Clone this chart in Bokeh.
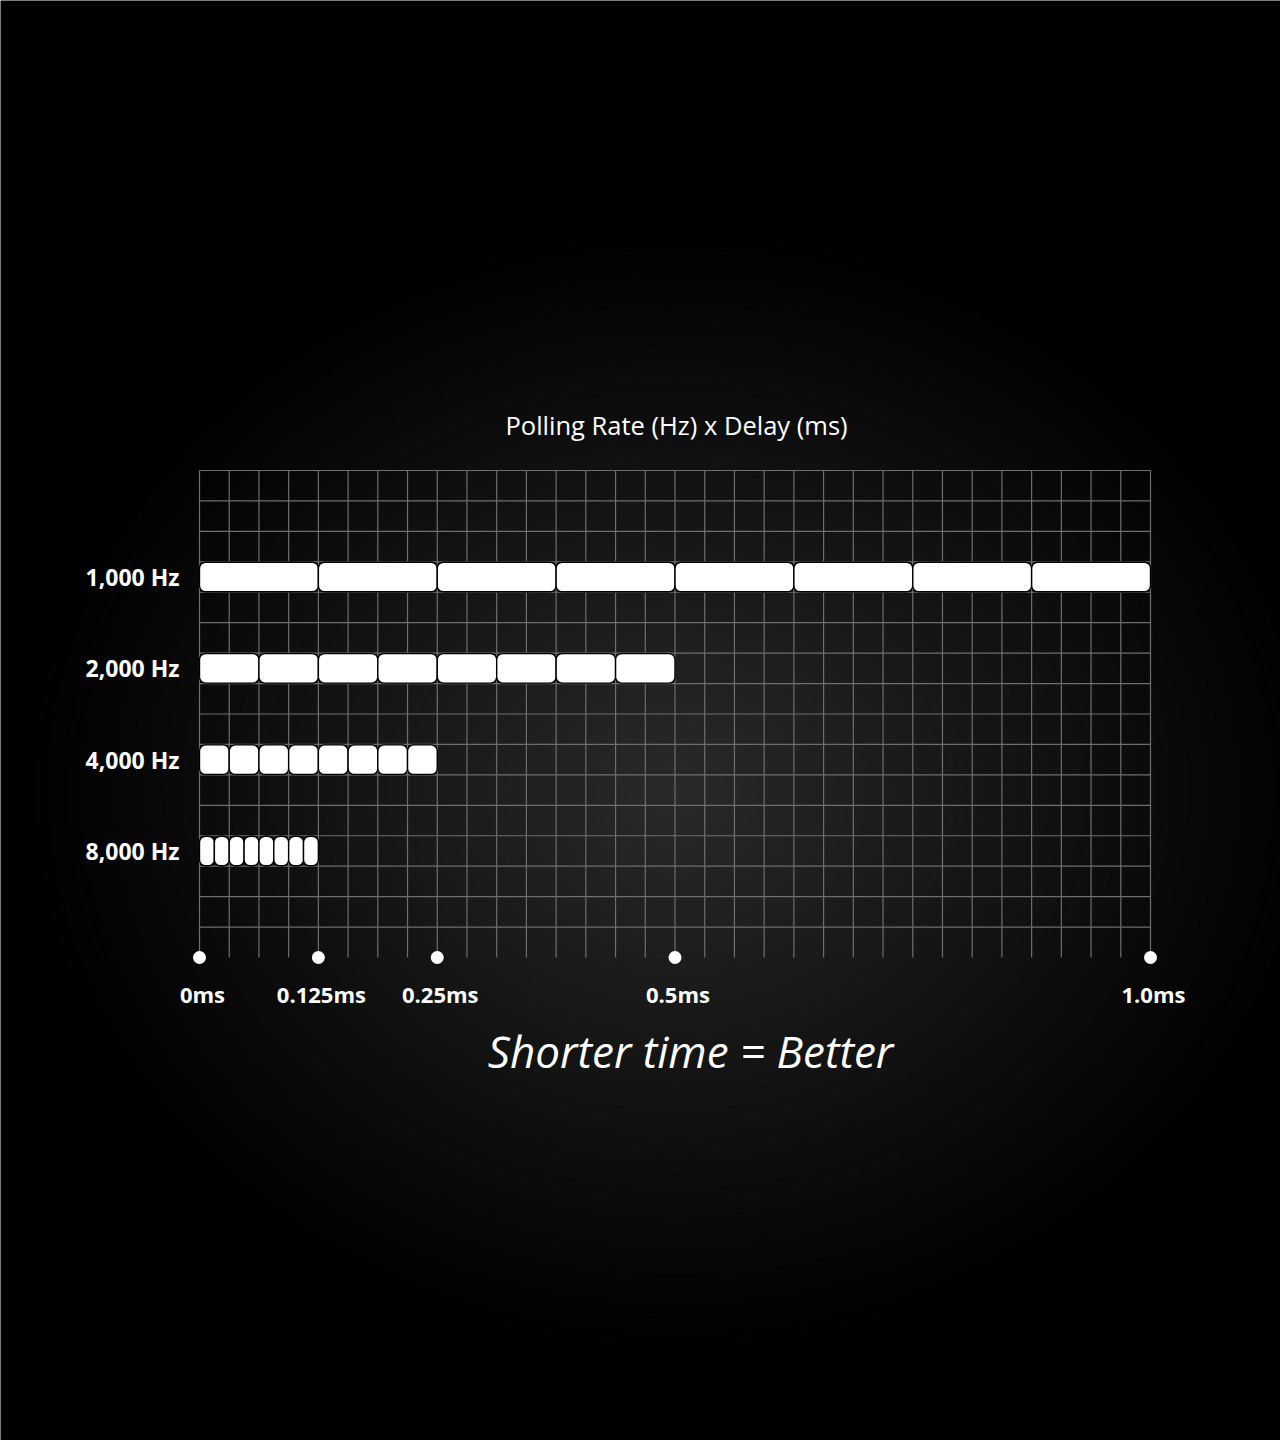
import numpy as np
from bokeh.plotting import figure
from bokeh.models import Range1d, ColumnDataSource
from bokeh.core.properties import value
from bokeh.embed import file_html
from bokeh.resources import INLINE

# ---- data ----
rate_labels = ["1,000 Hz", "2,000 Hz", "4,000 Hz", "8,000 Hz"]
rate_hz = [1000, 2000, 4000, 8000]
total_delay_ms = [1.0, 0.5, 0.25, 0.125]
segments_per_bar = 8
tick_ms = [0, 0.125, 0.25, 0.5, 1.0]
tick_labels = ["0ms", "0.125ms", "0.25ms", "0.5ms", "1.0ms"]
title_text = "Polling Rate (Hz) x Delay (ms)"
footer_text = "Shorter time = Better"

# ---- layout ----
W, H = 1280, 1440
px_per_ms = 951.0
px_per_row = 487.0 / 16
x0 = -199.0 / px_per_ms
x1 = x0 + W / px_per_ms
y1 = 957.0 / px_per_row
y0 = y1 - H / px_per_row

p = figure(width=W, height=H, output_backend="svg", toolbar_location=None,
           x_range=Range1d(x0, x1), y_range=Range1d(y0, y1),
           x_axis_location=None, y_axis_location=None, min_border=0,
           background_fill_color="#000000", border_fill_color="#000000")
p.outline_line_color = None
p.grid.visible = False

# radial glow background (concentric ellipses)
cx, cy = 0.5016, 5.5
RX, RY = 660, 570
n = 80
fr = np.linspace(1.0, 0.01, n)
cols = []
for f in fr:
    v = int(round(42 * (1 - f) ** 1.05))
    cols.append("#%02x%02x%02x" % (v, v, v))
p.ellipse(x=[cx] * n, y=[cy] * n, width=2 * RX * fr, height=2 * RY * fr,
          width_units="screen", height_units="screen",
          fill_color=cols, line_color=None)

# grid
n_cols = 32
n_rows = 16
vx = np.arange(n_cols + 1) / n_cols
p.segment(x0=vx, y0=np.zeros_like(vx), x1=vx, y1=np.full_like(vx, n_rows),
          line_color="#6e6e6e", line_width=1.2)
hy = np.arange(1, n_rows + 1)
p.segment(x0=np.zeros(len(hy)), y0=hy, x1=np.ones(len(hy)), y1=hy,
          line_color="#6e6e6e", line_width=1.2)

# bars (8 segments each)
lefts, rights, ys = [], [], []
for i, (hz, tot) in enumerate(zip(rate_hz, total_delay_ms)):
    d = 1000.0 / hz / segments_per_bar
    row_y = 12.5 - 3 * i
    for k in range(segments_per_bar):
        lefts.append(k * d)
        rights.append((k + 1) * d)
        ys.append(row_y)
src = ColumnDataSource(dict(left=lefts, right=rights, y=ys))
p.hbar(y="y", left="left", right="right", height=0.97, source=src,
       fill_color="#ffffff", line_color="#000000", line_width=1.4,
       border_radius=6)

# row labels
label_y = [12.5 - 3 * i for i in range(len(rate_labels))]
p.text(x=[-0.021] * len(rate_labels), y=label_y, text=rate_labels,
       text_align="right", text_baseline="middle", text_color="#ffffff",
       text_font=value("Open Sans"), text_font_style="bold", text_font_size="23px")

# tick dots and labels
p.scatter(x=tick_ms, y=[0] * len(tick_ms), size=13, fill_color="#ffffff", line_color=None)
p.text(x=tick_ms, y=[-1.2] * len(tick_ms), text=tick_labels, x_offset=3,
       text_align="center", text_baseline="middle", text_color="#ffffff",
       text_font=value("Open Sans"), text_font_style="bold", text_font_size="22px")

# title and footer
p.text(x=[0.5016], y=[17.48], text=[title_text], text_align="center",
       text_baseline="middle", text_color="#ffffff",
       text_font=value("Open Sans"), text_font_size="25.5px")
p.text(x=[0.5163], y=[-3.06], text=[footer_text], text_align="center",
       text_baseline="middle", text_color="#ffffff",
       text_font=value("Open Sans"), text_font_style="italic", text_font_size="44px")

open("out.html", "w").write(file_html(p, INLINE))
